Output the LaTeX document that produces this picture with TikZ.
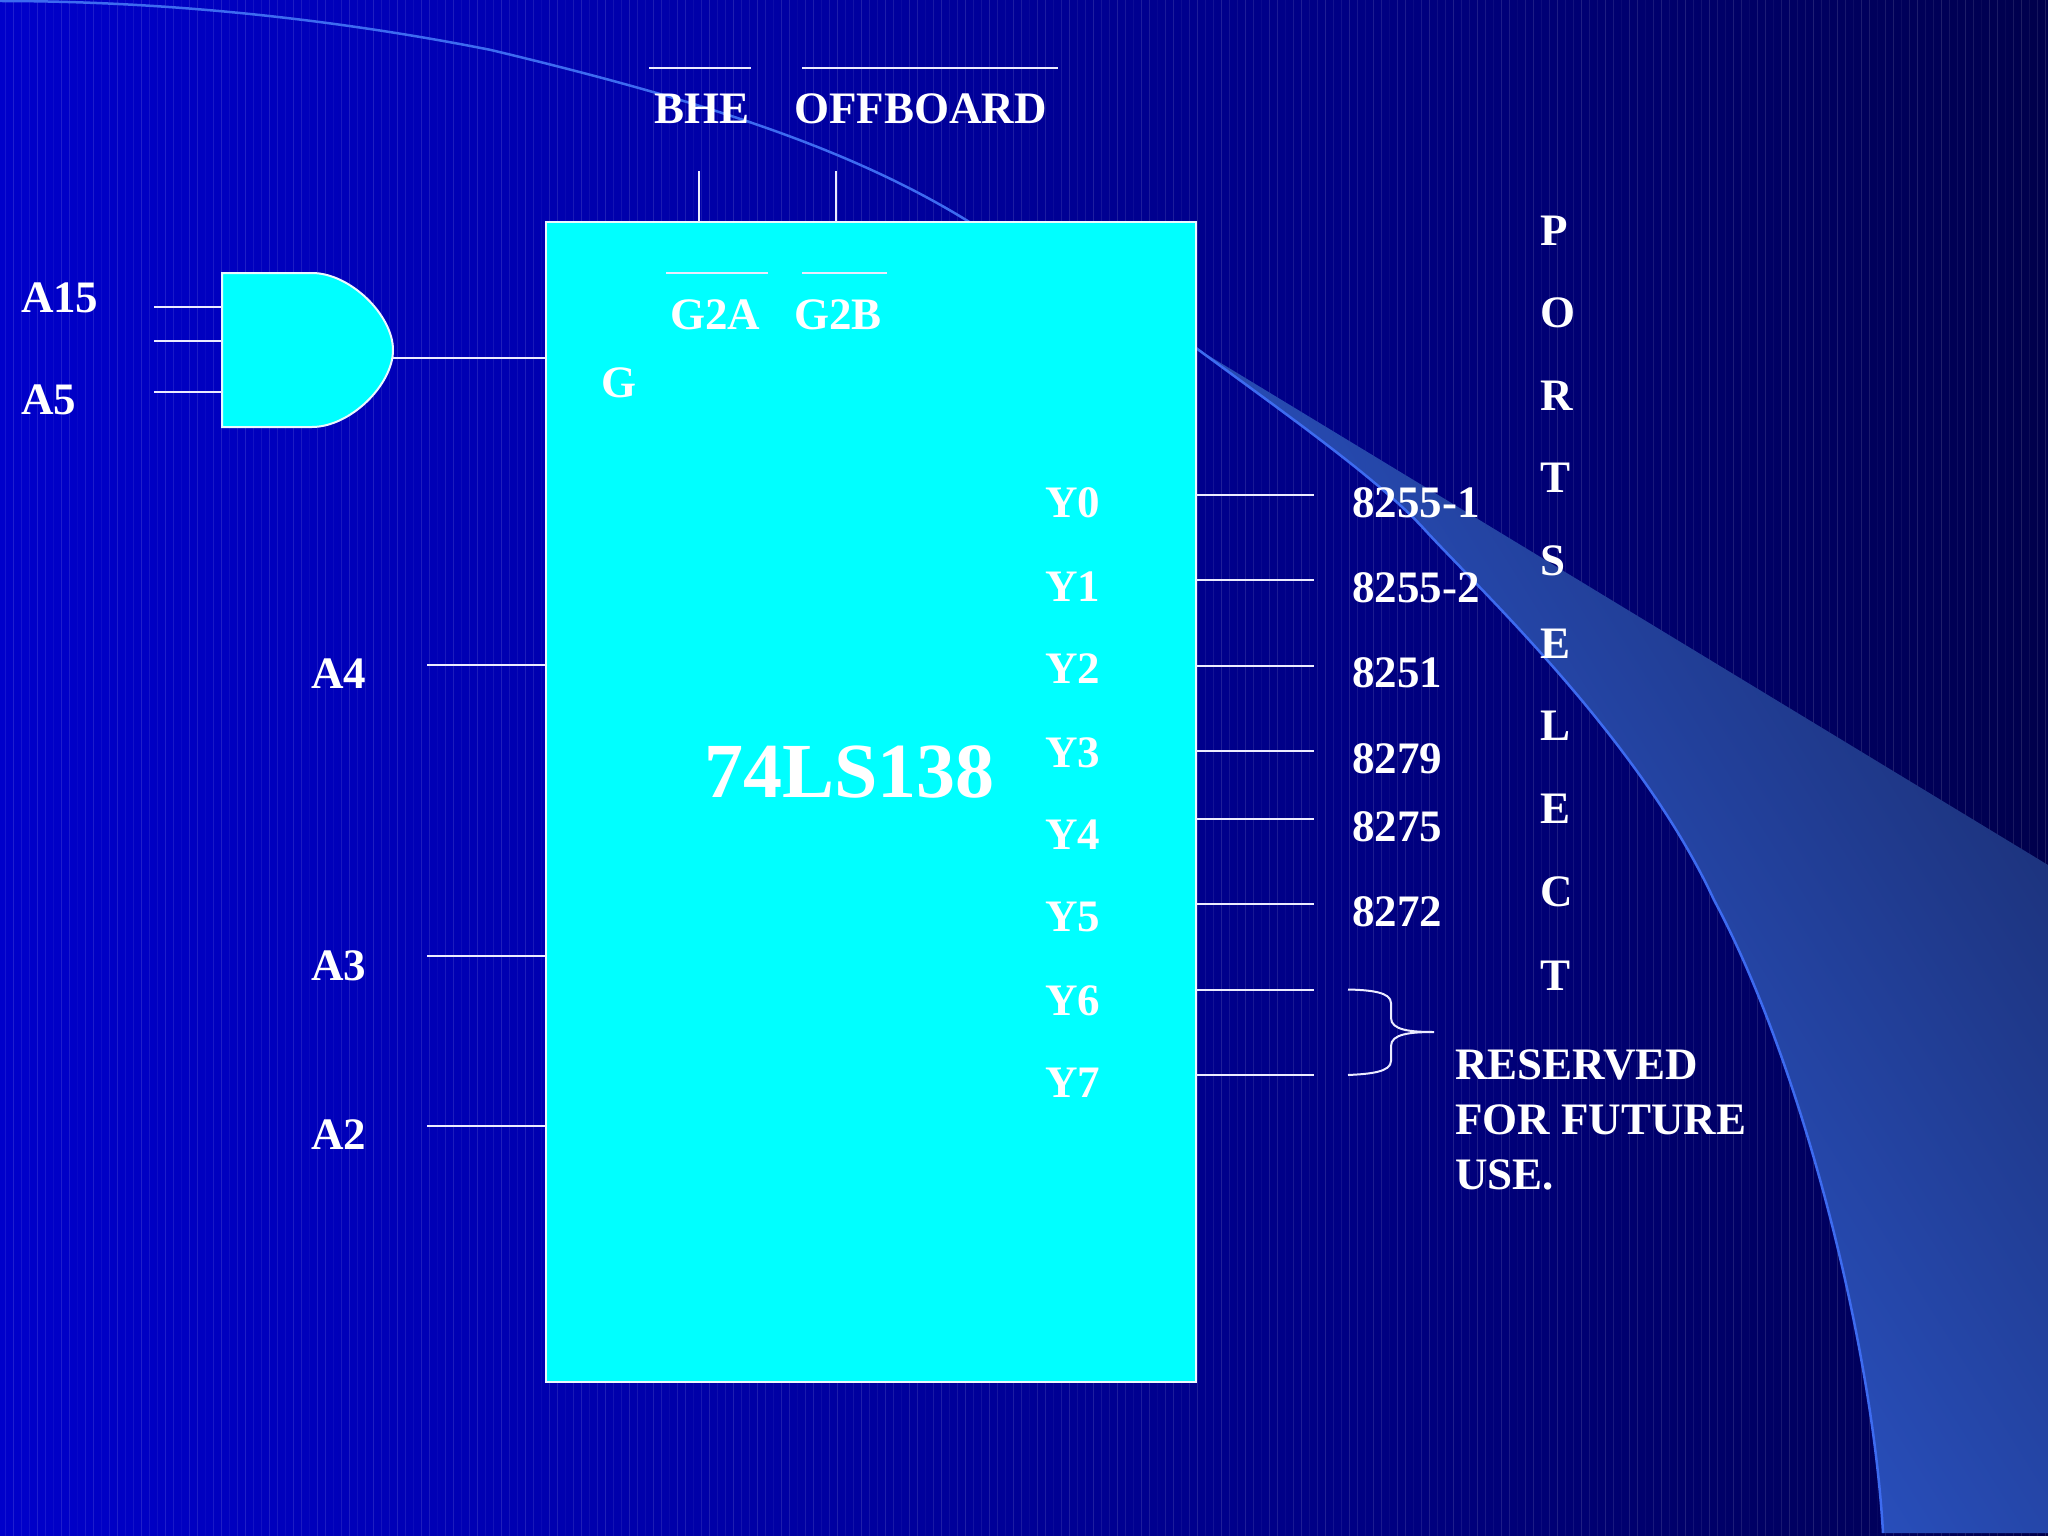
\documentclass[tikz,border=0pt]{standalone}
\usepackage{fontspec}
\setmainfont{Liberation Serif}
\definecolor{bgA}{HTML}{0000FF}
\definecolor{bgB}{HTML}{0000CC}
\definecolor{bgC}{HTML}{0000A8}
\definecolor{bgD}{HTML}{000084}
\definecolor{bgE}{HTML}{000058}
\definecolor{bgF}{HTML}{000026}
\pgfdeclarehorizontalshading{bgshade}{100bp}{
 color(0bp)=(bgA); color(10bp)=(bgA); color(24bp)=(bgB); color(42bp)=(bgC); color(58bp)=(bgD); color(72bp)=(bgE); color(84bp)=(bgF); color(94bp)=(black); color(100bp)=(black)}
\definecolor{swooshA}{HTML}{3163EA}
\definecolor{swooshB}{HTML}{1B2F74}
\definecolor{swooshLine}{HTML}{3D6BF0}
\definecolor{chipfill}{HTML}{00FFFF}
\tikzset{
 lab/.style={anchor=base west,inner sep=0pt,outer sep=0pt,text=white,font=\fontsize{45}{45}\selectfont\bfseries},
 wire/.style={draw=white!92!blue,line width=2pt},
 bar/.style={draw=white!92!blue,line width=2pt},
 chipbox/.style={fill=chipfill,draw=white!92!cyan,line width=2.5pt}
}
\begin{document}
\begin{tikzpicture}[x=1pt,y=-1pt]
\useasboundingbox (0,0) rectangle (2048,1536);
% background
\shade[shading=bgshade] (0,0) rectangle (2048,1536);
\foreach \xx in {5,13,...,2045}{
 \pgfmathsetmacro{\oo}{0.03+0.09*abs(sin(\xx*7))}
 \fill[white,opacity=\oo] (\xx,0) rectangle ++(1.4,1536);
}
% swoosh
\path[shade,left color=swooshA,right color=swooshB,shading angle=122]
 (1196,348) -- (2048,865) -- (2048,1533) -- (1883,1533)
 .. controls (1872,1340) and (1800,1060) .. (1714,900)
 .. controls (1640,740) and (1480,590) .. (1425,530)
 .. controls (1380,480) and (1280,410) .. cycle;
\draw[swooshLine,line width=2.5pt] (1883,1533)
 .. controls (1872,1340) and (1800,1060) .. (1714,900)
 .. controls (1640,740) and (1480,590) .. (1425,530)
 .. controls (1380,480) and (1280,410) .. (1196,348);
\draw[swooshLine,line width=2.5pt] (0,1) .. controls (160,1) and (330,18) .. (491,50)
 .. controls (700,100) and (860,150) .. (985,232);
% chip
\node[chipbox,minimum width=650pt,minimum height=1160pt,inner sep=0pt,outer sep=0pt,anchor=north west] (chip) at (546,222) {};
% AND gate
\draw[fill=chipfill,draw=white!92!cyan,line width=2pt] (222,273) -- (312,273)
 .. controls (350,273) and (393,315) .. (393,350)
 .. controls (393,385) and (350,427) .. (312,427) -- (222,427) -- cycle;
\coordinate (gout) at (393,358);
\coordinate (gA) at (222,307); \coordinate (gB) at (222,341); \coordinate (gC) at (222,392);
\coordinate (iA) at (154,307); \coordinate (iB) at (154,341); \coordinate (iC) at (154,392);
\draw[wire] (iA)--(gA); \draw[wire] (iB)--(gB); \draw[wire] (iC)--(gC);
\draw[wire] (gout)--(gout-|chip.west);
% labels left
\node[lab] (a15) at (21,312) {A15};
\node[lab] (a5) at (21,414) {A5};
\node[lab] (a4) at (311,688) {A4};
\node[lab] (a3) at (311,980) {A3};
\node[lab] (a2) at (311,1149) {A2};
\coordinate (wa4) at (427,665); \coordinate (wa3) at (427,955.5); \coordinate (wa2) at (427,1126);
\draw[wire] (wa4)--(wa4-|chip.west); \draw[wire] (wa3)--(wa3-|chip.west); \draw[wire] (wa2)--(wa2-|chip.west);
% top
\node[lab] (bhe) at (654,124) {BHE};
\node[lab] (off) at (794,124) {OFFBOARD};
\draw[bar] (649,68)--(751,68);
\draw[bar] (802,68)--(1058,68);
\coordinate (s1) at (699,171); \coordinate (s2) at (836,171);
\draw[wire] (s1)--(s1|-chip.north); \draw[wire] (s2)--(s2|-chip.north);
% inside chip
\node[lab] (g2a) at (670,329) {G2A};
\node[lab] (g2b) at (794,329) {G2B};
\draw[bar] (666,273)--(768,273);
\draw[bar] (802,273)--(887,273);
\node[lab] (g) at (601,397) {G};
\node[lab,font=\fontsize{78}{78}\selectfont\bfseries] (main) at (704,797) {74LS138};
\node[lab] (y0) at (1045,517) {Y0};
\node[lab] (y1) at (1045,601) {Y1};
\node[lab] (y2) at (1045,683) {Y2};
\node[lab] (y3) at (1045,767) {Y3};
\node[lab] (y4) at (1045,849) {Y4};
\node[lab] (y5) at (1045,931) {Y5};
\node[lab] (y6) at (1045,1015) {Y6};
\node[lab] (y7) at (1045,1097) {Y7};
% outputs
\foreach \yy in {495,580,665.5,751,819,904,989.5,1075}
 \draw[wire] (chip.east|-0,\yy)--(1314,\yy);
\node[lab] (n0) at (1352,517) {8255-1};
\node[lab] (n1) at (1352,602) {8255-2};
\node[lab] (n2) at (1352,687) {8251};
\node[lab] (n3) at (1352,773) {8279};
\node[lab] (n4) at (1352,841) {8275};
\node[lab] (n5) at (1352,926) {8272};
% port select
\foreach \ch/\yy/\xo in {P/245/1540,O/327/1540,R/410/1540,T/492/1540,S/575.5/1540,E/658/1540,L/740/1540,E/823.5/1540,C/906/1540,T/990/1540}
 \node[lab] at (\xo,\yy) {\ch};
% brace
\draw[draw=white!92!blue,line width=2pt] (1348,989.5) .. controls (1370,990) and (1391,992) .. (1391,1003)
 -- (1391,1018) .. controls (1391,1030) and (1410,1032) .. (1434,1032)
 .. controls (1410,1032) and (1391,1034) .. (1391,1046) -- (1391,1061)
 .. controls (1391,1072) and (1370,1074) .. (1348,1075);
% reserved
\node[lab] (r1) at (1455,1079) {RESERVED};
\node[lab] (r2) at (1455,1134) {FOR FUTURE};
\node[lab] (r3) at (1455,1189) {USE.};
\end{tikzpicture}
\end{document}
